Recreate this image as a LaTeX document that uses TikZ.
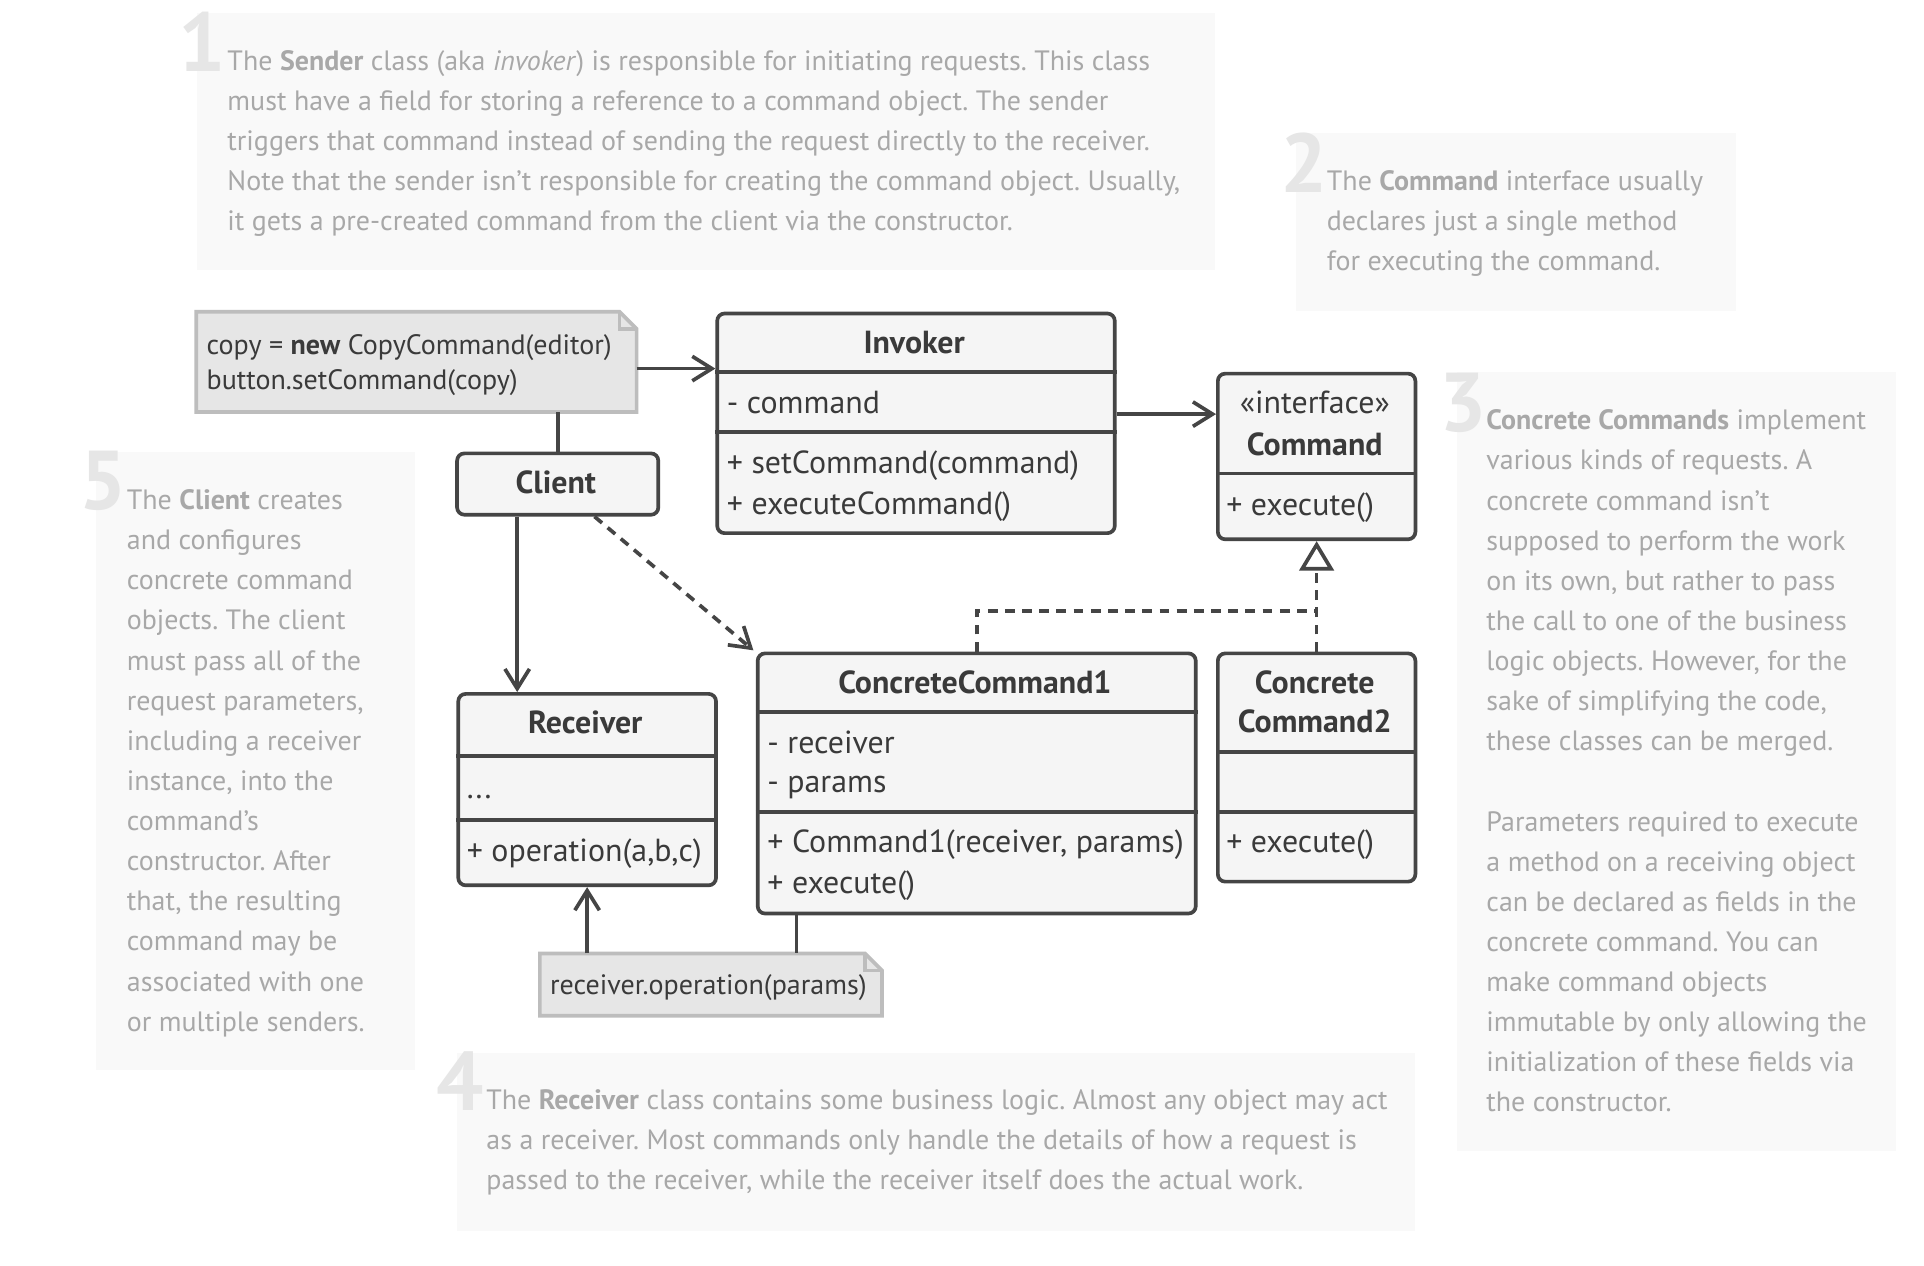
\documentclass[tikz,border=0pt]{standalone}
\usepackage{fontspec}
\setmainfont{PT Sans}
\usetikzlibrary{arrows.meta}
\frenchspacing
\definecolor{txt}{HTML}{A8A8A8}
\definecolor{numc}{HTML}{E6E6E6}
\definecolor{bgbox}{HTML}{F9F9F9}
\definecolor{linec}{HTML}{454545}
\definecolor{clsfill}{HTML}{F5F5F5}
\definecolor{notefill}{HTML}{E6E6E6}
\definecolor{notedraw}{HTML}{BDBDBD}
\definecolor{ink}{HTML}{3A3A3A}
\newcommand\bodyfont{\fontsize{11.4pt}{16.35pt}\selectfont}
\newcommand\clsfont{\fontsize{13pt}{16.5pt}\selectfont}
\newcommand\notefont{\fontsize{11.42pt}{14.5pt}\selectfont}
\newcommand\numfont{\fontsize{34pt}{34pt}\selectfont\bfseries}
\begin{document}
\begin{tikzpicture}[x=0.5pt,y=-0.5pt,
  bgrect/.style={fill=bgbox, draw=none, inner sep=0, anchor=north west},
  numlbl/.style={font=\numfont, text=numc, inner sep=0, anchor=base west},
  para/.style={font=\bodyfont, text=txt, align=left, inner sep=0, anchor=north west},
  cls/.style={draw=linec, line width=1.5pt, fill=clsfill, rounded corners=3pt, inner sep=0, anchor=north west},
  ctext/.style={font=\clsfont, text=ink, inner sep=0},
  ctitle/.style={font=\clsfont\bfseries, text=ink, inner sep=0},
  ntext/.style={font=\notefont, text=ink, inner sep=0, align=left, anchor=north west},
  notebox/.style={inner sep=0, anchor=north west},
  notedrw/.style={fill=notefill, draw=notedraw, line width=1.5pt},
  divider/.style={draw=linec, line width=1.5pt},
  assoc/.style={draw=linec, line width=1.5pt, -{Straight Barb[length=8pt,width=10pt]}},
  depend/.style={assoc, dash pattern=on 4pt off 3pt},
  realiz/.style={draw=linec, line width=1.5pt, dash pattern=on 4pt off 3pt},
  realtip/.style={realiz, -{Triangle[open, length=12pt, width=14pt, fill=white]}}
]
\useasboundingbox (0,0) rectangle (1568,1031.7);
\fill[white] (0,0) rectangle (1568,1031.7);

% ---- explanation boxes ----
\node[bgrect, minimum width=415pt, minimum height=105pt] (bg1) at (160,10) {};
\node[bgrect, minimum width=179pt, minimum height=72.5pt] (bg2) at (1056,108) {};
\node[bgrect, minimum width=179pt, minimum height=317.5pt] (bg3) at (1187,303) {};
\node[bgrect, minimum width=130pt, minimum height=252pt] (bg5) at (78,368) {};
\node[bgrect, minimum width=390.5pt, minimum height=72.5pt] (bg4) at (372,858) {};

\node[numlbl] (n1) at (145,58) {1};
\node[numlbl] (n2) at (1043,157) {2};
\node[numlbl] (n3) at (1173,352) {3};
\node[numlbl] (n5) at (64,415) {5};
\node[numlbl] (n4) at (355,905) {4};

\node[para] (t1) at (185,34) {\strut The \textbf{Sender} class (aka \textit{invoker}) is responsible for initiating requests. This class\\
must have a field for storing a reference to a command object. The sender\\
triggers that command instead of sending the request directly to the receiver.\\
Note that the sender isn’t responsible for creating the command object. Usually,\\
it gets a pre-created command from the client via the constructor.};

\node[para] (t2) at (1081,132) {\strut The \textbf{Command} interface usually\\
declares just a single method\\
for executing the command.};

\node[para] (t3) at (1211,327) {\strut\textbf{Concrete Commands} implement\\
various kinds of requests. A\\
concrete command isn’t\\
supposed to perform the work\\
on its own, but rather to pass\\
the call to one of the business\\
logic objects. However, for the\\
sake of simplifying the code,\\
these classes can be merged.\\[16.35pt]
Parameters required to execute\\
a method on a receiving object\\
can be declared as fields in the\\
concrete command. You can\\
make command objects\\
immutable by only allowing the\\
initialization of these fields via\\
the constructor.};

\node[para] (t5) at (103,392) {\strut The \textbf{Client} creates\\
and configures\\
concrete command\\
objects. The client\\
must pass all of the\\
request parameters,\\
including a receiver\\
instance, into the\\
command’s\\
constructor. After\\
that, the resulting\\
command may be\\
associated with one\\
or multiple senders.};

\node[para] (t4) at (396,881) {\strut The \textbf{Receiver} class contains some business logic. Almost any object may act\\
as a receiver. Most commands only handle the details of how a request is\\
passed to the receiver, while the receiver itself does the actual work.};

% ---- notes ----
\node[notebox, minimum width=179pt, minimum height=40.5pt] (note1) at (160,254) {};
\draw[notedrw] (note1.north west) -- ([xshift=-7pt]note1.north east) -- ([yshift=-7pt]note1.north east) -- (note1.south east) -- (note1.south west) -- cycle;
\draw[draw=notedraw, line width=1.5pt] ([xshift=-7pt]note1.north east) |- ([yshift=-7pt]note1.north east);
\node[ntext] (nt1) at (168,268) {\strut copy = \textbf{new} CopyCommand(editor)\\button.setCommand(copy)};

\node[notebox, minimum width=139pt, minimum height=25pt] (note2) at (440,777) {};
\draw[notedrw] (note2.north west) -- ([xshift=-7pt]note2.north east) -- ([yshift=-7pt]note2.north east) -- (note2.south east) -- (note2.south west) -- cycle;
\draw[draw=notedraw, line width=1.5pt] ([xshift=-7pt]note2.north east) |- ([yshift=-7pt]note2.north east);
\node[ntext] (nt2) at (448,790) {\strut receiver.operation(params)};

% ---- classes ----
\node[cls, minimum width=162pt, minimum height=89.5pt] (invoker) at (583,254) {};
\draw[divider] (invoker.west |- 0,303) -- (invoker.east |- 0,303);
\draw[divider] (invoker.west |- 0,352) -- (invoker.east |- 0,352);
\node[ctitle, anchor=base] (invT) at (745,288) {Invoker};
\node[ctext, anchor=base west] (invF) at (592,337) {- command};
\node[ctext, anchor=base west] (invM1) at (592,386) {+ setCommand(command)};
\node[ctext, anchor=base west] (invM2) at (592,419) {+ executeCommand()};

\node[cls, minimum width=82pt, minimum height=25pt] (client) at (371,368) {};
\node[ctitle, anchor=base] (cliT) at (453,402) {Client};

\node[cls, minimum width=80.5pt, minimum height=67.5pt] (command) at (991,303) {};
\draw[divider] (command.west |- 0,386) -- (command.east |- 0,386);
\node[ctext, anchor=base] (cmdS) at (1071.5,337) {«interface»};
\node[ctitle, anchor=base] (cmdT) at (1071.5,371) {Command};
\node[ctext, anchor=base west] (cmdM) at (999,420) {+ execute()};

\node[cls, minimum width=105pt, minimum height=78pt] (receiver) at (372,564) {};
\draw[divider] (receiver.west |- 0,616) -- (receiver.east |- 0,616);
\draw[divider] (receiver.west |- 0,668) -- (receiver.east |- 0,668);
\node[ctitle, anchor=base] (recT) at (477,598) {Receiver};
\node[ctext, anchor=base west] (recF) at (380,651) {...};
\node[ctext, anchor=base west] (recM) at (380,702) {+ operation(a,b,c)};

\node[cls, minimum width=178.5pt, minimum height=106pt] (cc1) at (616,531) {};
\draw[divider] (cc1.west |- 0,580) -- (cc1.east |- 0,580);
\draw[divider] (cc1.west |- 0,662) -- (cc1.east |- 0,662);
\node[ctitle, anchor=base] (cc1T) at (794.5,565) {ConcreteCommand1};
\node[ctext, anchor=base west] (cc1F1) at (625,614) {- receiver};
\node[ctext, anchor=base west] (cc1F2) at (625,646) {- params};
\node[ctext, anchor=base west] (cc1M1) at (625,695) {+ Command1(receiver, params)};
\node[ctext, anchor=base west] (cc1M2) at (625,728) {+ execute()};

\node[cls, minimum width=80.5pt, minimum height=93pt] (cc2) at (991,531) {};
\draw[divider] (cc2.west |- 0,613) -- (cc2.east |- 0,613);
\draw[divider] (cc2.west |- 0,662) -- (cc2.east |- 0,662);
\node[ctitle, anchor=base] (cc2T1) at (1071.5,565) {Concrete};
\node[ctitle, anchor=base] (cc2T2) at (1071.5,597) {Command2};
\node[ctext, anchor=base west] (cc2M) at (999,695) {+ execute()};

% ---- connectors ----
\draw[assoc] ([yshift=-2.75pt]note1.east) -- ([yshift=-2.75pt]note1.east -| invoker.west);
\draw[divider] (note1.south -| client.north) -- (client.north);
\draw[assoc] ([yshift=3.75pt]invoker.east) -- ([yshift=3.75pt]invoker.east -| command.west);
\draw[assoc] ([xshift=-16.5pt]client.south) -- ([xshift=-16.5pt]client.south |- receiver.north);
\draw[depend] ([xshift=15pt]client.south) -- ([xshift=-1pt,yshift=0.5pt]cc1.north west);
\coordinate (junc) at (1071.5,498);
\draw[realiz] (cc1.north) |- (junc);
\draw[realtip] (cc2.north) -- (command.south);
\draw[assoc] (note2.north -| receiver.south) -- (receiver.south);
\draw[divider] ([xshift=16.5pt]cc1.south west) -- ([xshift=16.5pt]cc1.south west |- note2.north);
\end{tikzpicture}
\end{document}
